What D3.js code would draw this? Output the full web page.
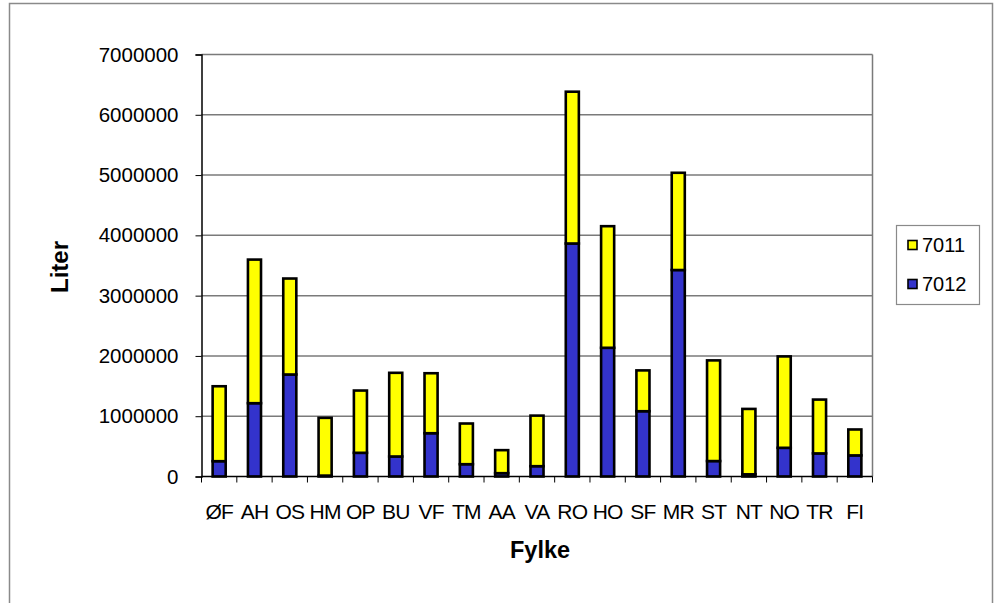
<!DOCTYPE html>
<html>
<head>
<meta charset="utf-8">
<script src="https://cdn.jsdelivr.net/npm/d3@7"></script>
<style>
  html, body { margin: 0; padding: 0; background: #fff; }
  svg { display: block; }
  text { font-family: "Liberation Sans", Arial, sans-serif; fill: #000; }
</style>
</head>
<body>
<svg id="chart" width="999" height="603"></svg>
<script>
// Counties (fylker) and volumes in litres per product group
const fylker = ["ØF","AH","OS","HM","OP","BU","VF","TM","AA","VA","RO","HO","SF","MR","ST","NT","NO","TR","FI"];
const v7012 = [254000,1216000,1692000,15000,393000,332000,718000,204000,55000,171000,3865000,2135000,1083000,3425000,256000,36000,476000,383000,350000];
const v7011 = [1243000,2382000,1592000,958000,1033000,1388000,995000,675000,382000,839000,2518000,2017000,677000,1613000,1670000,1085000,1516000,893000,430000];
const yTicks = [0,1000000,2000000,3000000,4000000,5000000,6000000,7000000];
const seriesNames = ["7012","7011"];           // stacking order, bottom first
const legendOrder = ["7011","7012"];
const colors = { "7011": "#FFFF00", "7012": "#3333CC" };

const svg = d3.select("#chart");

// Outer chart frame
svg.append("rect").attr("x", 9.5).attr("y", 3.5).attr("width", 983).attr("height", 640)
  .attr("fill", "none").attr("stroke", "#8a8a8a").attr("stroke-width", 1.5);

const plot = { left: 201.5, right: 872.5, top: 54.5, bottom: 476.5 };

const x = d3.scaleBand().domain(fylker).range([plot.left, plot.right]).paddingInner(0.63).paddingOuter(0.315);
const y = d3.scaleLinear().domain([0, 7000000]).range([plot.bottom, plot.top]);

// Gridlines
svg.append("g").selectAll("line").data(yTicks.filter(d => d > 0)).join("line")
  .attr("x1", plot.left).attr("x2", plot.right)
  .attr("y1", d => y(d)).attr("y2", d => y(d))
  .attr("stroke", "#7a7a7a").attr("stroke-width", 1.5);
// Right edge of plot area
svg.append("line").attr("x1", plot.right).attr("x2", plot.right)
  .attr("y1", plot.top).attr("y2", plot.bottom)
  .attr("stroke", "#7a7a7a").attr("stroke-width", 1.5);

// Stacked bars
const rows = fylker.map((f, i) => ({ fylke: f, "7012": v7012[i], "7011": v7011[i] }));
const stacked = d3.stack().keys(seriesNames)(rows);
svg.append("g").selectAll("g").data(stacked).join("g")
  .attr("fill", d => colors[d.key])
  .selectAll("rect").data(d => d).join("rect")
  .attr("x", d => x(d.data.fylke))
  .attr("width", x.bandwidth())
  .attr("y", d => y(d[1]))
  .attr("height", d => y(d[0]) - y(d[1]))
  .attr("stroke", "#000").attr("stroke-width", 2.6);

// Y axis
const yAxis = d3.axisLeft(y).tickValues(yTicks).tickFormat(d3.format("d")).tickSize(6).tickPadding(17);
const gy = svg.append("g").attr("transform", `translate(${plot.left},0)`).call(yAxis);
gy.select(".domain").attr("stroke", "#000").attr("stroke-width", 1.5);
gy.selectAll(".tick line").attr("stroke", "#000");
gy.selectAll(".tick text").style("font-size", "20.5px").attr("font-family", "Liberation Sans, Arial, sans-serif");

// X axis: ticks sit between categories
const gx = svg.append("g").attr("transform", `translate(0,${plot.bottom})`);
gx.append("line").attr("x1", plot.left).attr("x2", plot.right).attr("stroke", "#000").attr("stroke-width", 1.5);
gx.selectAll("line.tk").data(d3.range(fylker.length + 1)).join("line").attr("class", "tk")
  .attr("x1", i => plot.left + i * (plot.right - plot.left) / fylker.length)
  .attr("x2", i => plot.left + i * (plot.right - plot.left) / fylker.length)
  .attr("y1", 0).attr("y2", 6).attr("stroke", "#000");
gx.selectAll("text").data(fylker).join("text")
  .attr("x", d => x(d) + x.bandwidth() / 2)
  .attr("y", 42)
  .attr("text-anchor", "middle")
  .style("font-size", "21px")
  .attr("letter-spacing", "-0.8")
  .text(d => d);

// Axis titles
svg.append("text").attr("x", 540).attr("y", 558).attr("text-anchor", "middle")
  .style("font-size", "23.5px").style("font-weight", "bold").text("Fylke");
svg.append("text").attr("transform", "translate(68,267) rotate(-90)").attr("text-anchor", "middle")
  .style("font-size", "24px").style("font-weight", "bold").text("Liter");

// Legend
const lg = svg.append("g");
lg.append("rect").attr("x", 896.5).attr("y", 225.5).attr("width", 83).attr("height", 79)
  .attr("fill", "#fff").attr("stroke", "#8a8a8a").attr("stroke-width", 1.2);
const items = lg.selectAll("g.it").data(legendOrder).join("g").attr("class", "it")
  .attr("transform", (d, i) => `translate(908,${245 + i * 39})`);
items.append("rect").attr("x", 0).attr("y", -4.5).attr("width", 9).attr("height", 9)
  .attr("fill", d => colors[d]).attr("stroke", "#000").attr("stroke-width", 1.6);
items.append("text").attr("x", 14).attr("y", 7).style("font-size", "20px").text(d => d);
</script>
</body>
</html>
